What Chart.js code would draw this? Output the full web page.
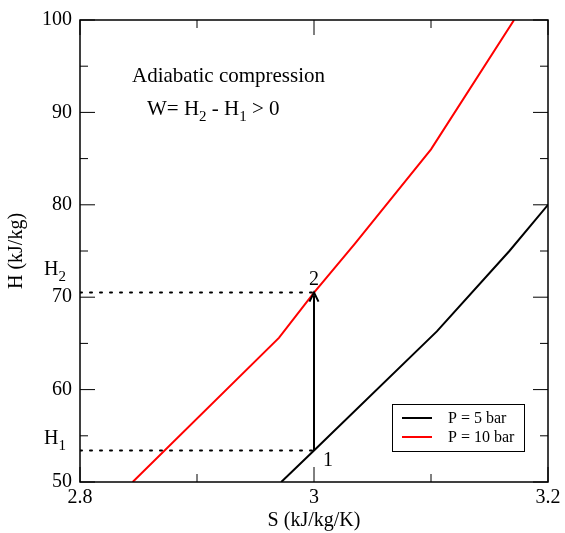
<!DOCTYPE html>
<html>
<head>
<meta charset="utf-8">
<script src="https://cdn.jsdelivr.net/npm/chart.js@4/dist/chart.umd.min.js"></script>
<style>
  html, body { margin: 0; padding: 0; background: #fff; }
</style>
</head>
<body>
<canvas id="myChart" width="565" height="533"></canvas>
<script>
// isobars
var sLow = [2.972, 3.0, 3.105, 3.167, 3.2];
var hLow = [50, 53.4, 66.3, 75, 80];
var sHigh = [2.845, 2.97, 3.0, 3.035, 3.1, 3.171];
var hHigh = [50, 65.6, 70.5, 75.8, 86, 100];

// the two states of the compression
var state1 = { s: 3.0, h: 53.4 };
var state2 = { s: 3.0, h: 70.5 };

var xTicks = [2.8, 3.0, 3.2];
var xTickLabels = ['2.8', '3', '3.2'];
var yTicks = [50, 60, 70, 80, 90, 100];

var serif = '"Liberation Serif", "DejaVu Serif", serif';

function pts(xs, ys) {
  return xs.map(function(x, i) { return { x: x, y: ys[i] }; });
}

var extras = {
  id: 'extras',
  afterDraw: function(chart) {
    var ctx = chart.ctx;
    var a = chart.chartArea;
    var xs = chart.scales.x, ys = chart.scales.y;
    ctx.save();

    // frame
    ctx.strokeStyle = '#000';
    ctx.lineWidth = 1.5;
    ctx.strokeRect(a.left, a.top, a.right - a.left, a.bottom - a.top);

    // inward ticks on all sides
    ctx.lineWidth = 1;
    for (var v = 2.8; v <= 3.2001; v += 0.1) {
      var px = xs.getPixelForValue(v);
      var major = Math.abs(Math.round(v * 10) % 2) === 0;
      var len = major ? 15 : 8;
      ctx.beginPath();
      ctx.moveTo(px, a.bottom); ctx.lineTo(px, a.bottom - len);
      ctx.moveTo(px, a.top); ctx.lineTo(px, a.top + len);
      ctx.stroke();
    }
    for (var h = 50; h <= 100; h += 5) {
      var py = ys.getPixelForValue(h);
      var len2 = (h % 10 === 0) ? 15 : 8;
      ctx.beginPath();
      ctx.moveTo(a.left, py); ctx.lineTo(a.left + len2, py);
      ctx.moveTo(a.right, py); ctx.lineTo(a.right - len2, py);
      ctx.stroke();
    }

    // arrowhead at state 2
    var ax = xs.getPixelForValue(state2.s);
    var ay = ys.getPixelForValue(state2.h);
    ctx.lineWidth = 2;
    ctx.beginPath();
    ctx.moveTo(ax - 4.5, ay + 9);
    ctx.lineTo(ax, ay);
    ctx.lineTo(ax + 4.5, ay + 9);
    ctx.stroke();

    // texts
    ctx.fillStyle = '#000';
    ctx.textBaseline = 'alphabetic';
    ctx.textAlign = 'left';
    ctx.font = '21px ' + serif;
    ctx.fillText('Adiabatic compression', 132, 82);

    function sub(main, s, x, y, size, subSize) {
      ctx.font = size + 'px ' + serif;
      ctx.fillText(main, x, y);
      var w = ctx.measureText(main).width;
      ctx.font = subSize + 'px ' + serif;
      ctx.fillText(s, x + w, y + 6);
      return x + w + ctx.measureText(s).width;
    }
    ctx.font = '21px ' + serif;
    var x0 = 147, yb = 115;
    ctx.fillText('W= ', x0, yb);
    x0 += ctx.measureText('W= ').width;
    x0 = sub('H', '2', x0, yb, 21, 15);
    ctx.font = '21px ' + serif;
    ctx.fillText(' - ', x0, yb);
    x0 += ctx.measureText(' - ').width;
    x0 = sub('H', '1', x0, yb, 21, 15);
    ctx.font = '21px ' + serif;
    ctx.fillText(' > 0', x0, yb);

    sub('H', '2', 44, 275, 20, 15);
    sub('H', '1', 44, 444, 20, 15);

    ctx.font = '20px ' + serif;
    ctx.fillText('2', ax - 5, ay - 8);
    var p1x = xs.getPixelForValue(state1.s);
    var p1y = ys.getPixelForValue(state1.h);
    ctx.fillText('1', p1x + 9, p1y + 15);

    // legend box
    var lx = 392, ly = 404, lw = 132, lh = 47;
    ctx.lineWidth = 1;
    ctx.strokeStyle = '#000';
    ctx.fillStyle = '#fff';
    ctx.fillRect(lx, ly, lw, lh);
    ctx.strokeRect(lx + 0.5, ly + 0.5, lw, lh);
    var items = chart.data.datasets.slice(0, 2);
    items.forEach(function(ds, i) {
      var yy = ly + 14 + i * 19;
      ctx.strokeStyle = ds.borderColor;
      ctx.lineWidth = 2;
      ctx.beginPath();
      ctx.moveTo(lx + 10, yy); ctx.lineTo(lx + 40, yy);
      ctx.stroke();
      ctx.fillStyle = '#000';
      ctx.font = '16px ' + serif;
      ctx.textBaseline = 'middle';
      ctx.fillText(ds.label, lx + 56, yy + 1);
    });
    ctx.restore();
  }
};

var ctx = document.getElementById('myChart').getContext('2d');
var myChart = new Chart(ctx, {
  type: 'scatter',
  data: {
    datasets: [
      { label: 'P = 5 bar', data: pts(sLow, hLow), borderColor: '#000', borderWidth: 2 },
      { label: 'P = 10 bar', data: pts(sHigh, hHigh), borderColor: '#ff0000', borderWidth: 2 },
      { label: 'h1', data: [{ x: 2.8, y: state1.h }, { x: state1.s, y: state1.h }],
        borderColor: '#000', borderWidth: 2, borderDash: [2, 8], borderCapStyle: 'round' },
      { label: 'h2', data: [{ x: 2.8, y: state2.h }, { x: state2.s, y: state2.h }],
        borderColor: '#000', borderWidth: 2, borderDash: [2, 8], borderCapStyle: 'round' },
      { label: 'w', data: [{ x: state1.s, y: state1.h }, { x: state2.s, y: state2.h - 0.3 }],
        borderColor: '#000', borderWidth: 2 }
    ]
  },
  options: {
    responsive: false,
    animation: false,
    showLine: true,
    elements: { point: { radius: 0, hoverRadius: 0 }, line: { tension: 0 } },
    layout: { padding: { top: 15, right: 17, left: 0, bottom: 0 } },
    plugins: { legend: { display: false }, tooltip: { enabled: false } },
    scales: {
      x: {
        type: 'linear', min: 2.8, max: 3.2,
        afterBuildTicks: function(scale) {
          scale.ticks = xTicks.map(function(v) { return { value: v }; });
        },
        afterFit: function(scale) { scale.height = 51; },
        ticks: {
          color: '#000', padding: 4, maxRotation: 0,
          font: { family: serif, size: 20 },
          callback: function(v, i) { return xTickLabels[i]; }
        },
        grid: { display: false, drawTicks: false },
        border: { display: false },
        title: { display: true, text: 'S (kJ/kg/K)', color: '#000',
                 font: { family: serif, size: 20 }, padding: { top: -3, bottom: 0 } }
      },
      y: {
        type: 'linear', min: 50, max: 100,
        afterBuildTicks: function(scale) {
          scale.ticks = yTicks.map(function(v) { return { value: v }; });
        },
        afterFit: function(scale) { scale.width = 80; },
        ticks: {
          color: '#000', padding: 8,
          font: { family: serif, size: 20 }
        },
        grid: { display: false, drawTicks: false },
        border: { display: false },
        title: { display: true, text: 'H (kJ/kg)', color: '#000',
                 font: { family: serif, size: 20 }, padding: { top: 5, bottom: 0 } }
      }
    }
  },
  plugins: [extras]
});
</script>
</body>
</html>
